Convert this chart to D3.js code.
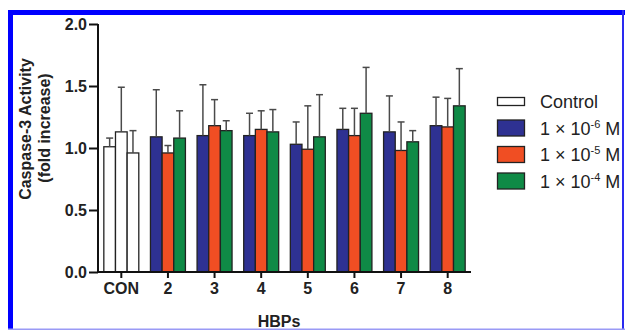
<!DOCTYPE html>
<html>
<head>
<meta charset="utf-8">
<script src="https://cdn.jsdelivr.net/npm/d3@7"></script>
<style>
  html, body { margin: 0; padding: 0; background: #fff; }
  svg { display: block; font-family: "Liberation Sans", Arial, sans-serif; }
</style>
</head>
<body>
<svg id="chart" width="625" height="330"></svg>
<script>
// --- data ---
const categories = ["CON", "2", "3", "4", "5", "6", "7", "8"];
const controlMean = [1.01, 1.13, 0.96];
const controlSd   = [0.07, 0.36, 0.18];

// groups 2..8
const mean6 = [1.09, 1.10, 1.10, 1.03, 1.15, 1.13, 1.18];
const sd6   = [0.38, 0.41, 0.18, 0.18, 0.17, 0.29, 0.23];
const mean5 = [0.96, 1.18, 1.15, 0.99, 1.10, 0.98, 1.17];
const sd5   = [0.06, 0.21, 0.15, 0.35, 0.22, 0.23, 0.23];
const mean4 = [1.08, 1.14, 1.13, 1.09, 1.28, 1.05, 1.34];
const sd4   = [0.22, 0.08, 0.18, 0.34, 0.37, 0.09, 0.30];

const yTicks = [0, 0.5, 1.0, 1.5, 2.0];
const legendItems = [
  { label: "Control", exp: null, color: "#ffffff" },
  { label: "1 × 10", exp: "-6", color: "#2e3192" },
  { label: "1 × 10", exp: "-5", color: "#f04e23" },
  { label: "1 × 10", exp: "-4", color: "#0f8a46" }
];
const seriesColors = ["#2e3192", "#f04e23", "#0f8a46"];

// build a flat bar table
const bars = [];
controlMean.forEach((m, i) => bars.push({ cat: "CON", sub: i, mean: m, sd: controlSd[i], color: "#ffffff" }));
categories.slice(1).forEach((c, j) => {
  [[mean6, sd6], [mean5, sd5], [mean4, sd4]].forEach(([m, s], i) => {
    bars.push({ cat: c, sub: i, mean: m[j], sd: s[j], color: seriesColors[i] });
  });
});

const svg = d3.select("#chart");

// --- scales ---
const x = d3.scaleBand().domain(categories).range([98, 471]).paddingInner(0.25).paddingOuter(0.125);
const xSub = d3.scaleBand().domain([0, 1, 2]).range([0, x.bandwidth()]);
const y = d3.scaleLinear().domain([0, 2]).range([272, 24]);

// --- bars ---
svg.append("g").selectAll("rect")
  .data(bars).join("rect")
  .attr("x", d => x(d.cat) + xSub(d.sub))
  .attr("y", d => y(d.mean))
  .attr("width", xSub.bandwidth())
  .attr("height", d => y(0) - y(d.mean))
  .attr("fill", d => d.color)
  .attr("stroke", "#222")
  .attr("stroke-width", 1.3);

// --- error bars (upper only) ---
const eg = svg.append("g").attr("stroke", "#4a4a4a").attr("stroke-width", 1.5);
bars.forEach(d => {
  const cx = x(d.cat) + xSub(d.sub) + xSub.bandwidth() / 2;
  eg.append("line").attr("x1", cx).attr("x2", cx).attr("y1", y(d.mean)).attr("y2", y(d.mean + d.sd));
  eg.append("line").attr("x1", cx - 3.5).attr("x2", cx + 3.5).attr("y1", y(d.mean + d.sd)).attr("y2", y(d.mean + d.sd));
});

// --- axes ---
const yAxis = svg.append("g").attr("transform", "translate(98,0)")
  .call(d3.axisLeft(y).tickValues(yTicks).tickFormat(d3.format(".1f")).tickSize(9).tickPadding(2));
const xAxis = svg.append("g").attr("transform", "translate(0,272)")
  .call(d3.axisBottom(x).tickSize(6).tickPadding(5));

[yAxis, xAxis].forEach(a => {
  a.select(".domain").attr("stroke", "#111").attr("stroke-width", 2);
  a.selectAll(".tick line").attr("stroke", "#111").attr("stroke-width", 2);
  a.selectAll(".tick text").attr("fill", "#222").attr("font-size", 16).attr("font-weight", "bold")
    .attr("font-family", "Liberation Sans, Arial, sans-serif");
});
yAxis.select(".domain").attr("d", "M0,24V272");
xAxis.select(".domain").attr("d", "M98,0H471");

// axis titles
svg.append("text")
  .attr("transform", "translate(31,129) rotate(-90)")
  .attr("text-anchor", "middle").attr("font-size", 16).attr("font-weight", "bold").attr("fill", "#222")
  .text("Caspase-3 Activity");
svg.append("text")
  .attr("transform", "translate(50,128) rotate(-90)")
  .attr("text-anchor", "middle").attr("font-size", 16).attr("font-weight", "bold").attr("fill", "#222")
  .text("(fold increase)");
svg.append("text")
  .attr("x", 279).attr("y", 327)
  .attr("text-anchor", "middle").attr("font-size", 16).attr("font-weight", "bold").attr("fill", "#222")
  .text("HBPs");

// --- legend ---
const lg = svg.append("g");
legendItems.forEach((d, i) => {
  const cy = 101.5 + i * 26.5;
  const h = i === 0 ? 8 : 16;
  lg.append("rect")
    .attr("x", 497.5).attr("y", cy - h / 2).attr("width", 27).attr("height", h)
    .attr("fill", d.color).attr("stroke", "#222").attr("stroke-width", 1.3);
  const t = lg.append("text").attr("x", 540).attr("y", cy + 6.5)
    .attr("font-size", 18).attr("fill", "#222");
  t.append("tspan").text(d.label);
  if (d.exp) {
    t.append("tspan").attr("dy", -7).attr("font-size", 11).text(d.exp);
    t.append("tspan").attr("dy", 7).text(" M");
  }
});

// --- frame ---
svg.append("rect").attr("x", 8).attr("y", 10).attr("width", 5).attr("height", 320).attr("fill", "#0000ff");
svg.append("rect").attr("x", 8).attr("y", 10).attr("width", 617).attr("height", 5).attr("fill", "#0000ff");
svg.append("rect").attr("x", 622).attr("y", 10).attr("width", 2).attr("height", 320).attr("fill", "#2a2af0");
svg.append("rect").attr("x", 8).attr("y", 328.5).attr("width", 617).attr("height", 1.5).attr("fill", "#9a9af5");
</script>
</body>
</html>
